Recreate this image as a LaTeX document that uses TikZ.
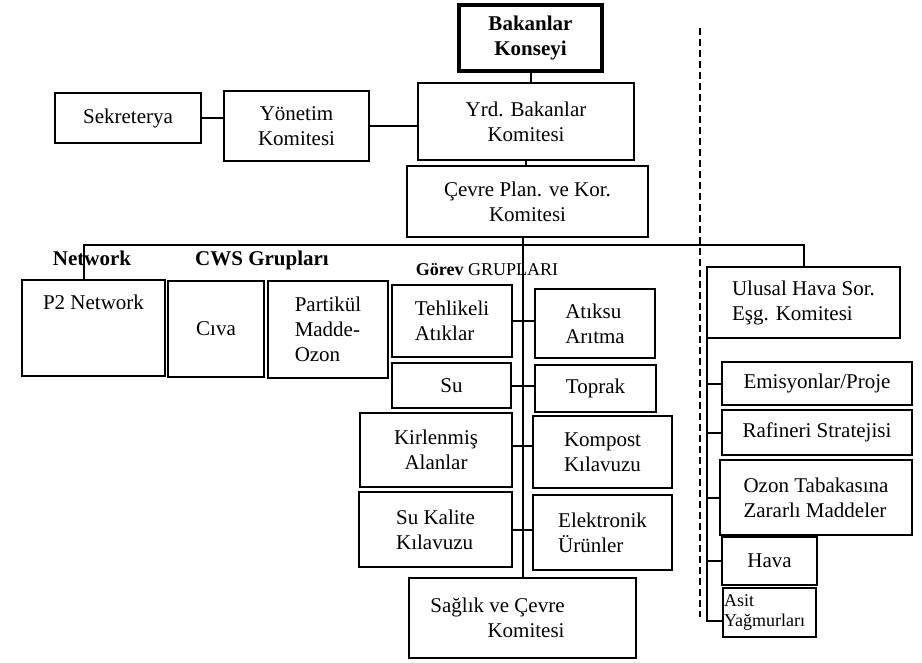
\documentclass[tikz,border=0pt]{standalone}
\usepackage{fontspec}
\setmainfont{Liberation Serif}
\tikzset{
  box/.style={draw, line width=2pt, align=center, inner sep=2pt},
  big/.style={font=\fontsize{21}{25}\selectfont},
  bold/.style={font=\fontsize{21}{25}\selectfont\bfseries},
  small/.style={font=\fontsize{18}{20}\selectfont},
}
\begin{document}
\begin{tikzpicture}[x=1pt, y=-1pt, line width=2pt, big]
  \useasboundingbox (0,0) rectangle (922,663);
  \node[box, bold, line width=4pt, minimum width=143pt, minimum height=66pt] (bk) at (530.5,38) {Bakanlar\\Konseyi};
  \node[box, minimum width=216pt, minimum height=77pt] (yrd) at (526,121.5) {Yrd. Bakanlar\\Komitesi};
  \node[box, minimum width=145pt, minimum height=70pt] (yon) at (296.5,126) {Yönetim\\Komitesi};
  \node[box, minimum width=146pt, minimum height=50pt] (sek) at (128,118) {Sekreterya};
  \node[box, minimum width=241pt, minimum height=71pt] (cevre) at (527.5,201.5) {Çevre Plan. ve Kor.\\Komitesi};
  \node[bold] (network) at (92,258) {Network};
  \node[bold] (cws) at (262,260) {CWS Grupları};
  \node[small] (gorev) at (487,270) {\textbf{Görev} GRUPLARI};
  \node[box, minimum width=143pt, text height=28pt, text depth=64pt] (p2) at (93.5,328) {P2 Network};
  \node[box, minimum width=96pt, minimum height=96pt] (civa) at (216,329) {Cıva};
  \node[box, align=left, minimum width=120pt, minimum height=97pt] (part) at (328,329.5) {Partikül\\Madde-\\Ozon};
  \node[box, align=left, minimum width=120pt, minimum height=72pt] (teh) at (452,321) {Tehlikeli\\Atıklar};
  \node[box, minimum width=119pt, minimum height=45pt] (su) at (451.5,385.5) {Su};
  \node[box, align=left, minimum width=120pt, minimum height=69pt] (atik) at (595,323.5) {Atıksu\\Arıtma};
  \node[box, minimum width=121pt, minimum height=47pt] (toprak) at (595.5,388.5) {Toprak};
  \node[box, minimum width=152pt, minimum height=74pt] (kirl) at (436,450) {Kirlenmiş\\Alanlar};
  \node[box, align=left, minimum width=139pt, minimum height=72pt] (komp) at (602.5,452) {Kompost\\Kılavuzu};
  \node[box, align=left, minimum width=153pt, minimum height=75pt] (sukal) at (435.5,529.5) {Su Kalite\\Kılavuzu};
  \node[box, align=left, minimum width=139pt, minimum height=75pt] (elek) at (602.5,532.5) {Elektronik\\Ürünler};
  \node[box, align=right, minimum width=227pt, minimum height=80pt] (saglik) at (522.5,618) {Sağlık ve Çevre\hspace*{50pt}\\Komitesi\hspace*{50pt}};
  \node[box, align=left, minimum width=193pt, minimum height=71pt] (uh) at (803.5,302.5) {Ulusal Hava Sor.\\Eşg. Komitesi};
  \node[box, minimum width=190pt, minimum height=43pt] (emis) at (817,383.5) {Emisyonlar/Proje};
  \node[box, minimum width=190pt, minimum height=45pt] (raf) at (817,432.5) {Rafineri Stratejisi};
  \node[box, align=left, minimum width=192pt, minimum height=75pt] (ozon) at (816,497.5) {Ozon Tabakasına\\Zararlı Maddeler};
  \node[box, minimum width=95pt, minimum height=48pt] (hava) at (769.5,561) {Hava};
  \node[box, small, align=left, text width=91pt, inner xsep=1pt, minimum height=49pt] (asit) at (769.5,612.5) {Asit\\Yağmurları};
  \coordinate (busL) at (84,245);
  \coordinate (rtop) at ([xshift=1pt]uh.south west);
  \coordinate (dtop) at (700,28);
  \coordinate (dbot) at (700,617);
  \begin{scope}[-]
    \draw (bk.south) -- (bk.south |- yrd.north);
    \draw (yrd.south) -- (yrd.south |- cevre.north);
    \draw (sek.east) -- (sek.east -| yon.west);
    \draw (yon.east) -- (yon.east -| yrd.west);
    \draw (saglik.north |- cevre.south) -- (saglik.north);
    \draw (p2.north -| busL) -- (busL) -- (uh.north |- busL) -- (uh.north);
    \draw (teh.east) -- (teh.east -| atik.west);
    \draw (su.east) -- (su.east -| toprak.west);
    \draw ([yshift=4pt]kirl.east) -- ([yshift=4pt]kirl.east -| komp.west);
    \draw (sukal.east) -- (sukal.east -| elek.west);
    \draw (rtop) |- (emis.west);
    \draw (rtop) |- (raf.west);
    \draw (rtop) |- (ozon.west);
    \draw (rtop) |- (hava.west);
    \draw (rtop) |- ([yshift=-8pt]asit.west);
    \draw[dash pattern=on 7pt off 4pt] (dtop) -- (dbot);
  \end{scope}
\end{tikzpicture}
\end{document}
